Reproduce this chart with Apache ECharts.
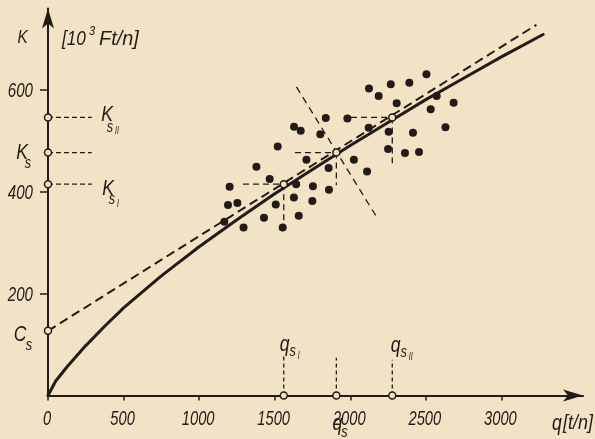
<!DOCTYPE html>
<html><head><meta charset="utf-8">
<script src="https://cdn.jsdelivr.net/npm/echarts@6/dist/echarts.min.js"></script>
<style>html,body{margin:0;padding:0;background:#f2e3c6}#c{width:595px;height:439px}</style>
</head><body><div id="c"></div>
<script>
// ---- data ----
const pointsQ = [2124,2268,2188,2307,1838,1981,1628,1672,1802,2122,2254,1520,2250,1710,2024,1857,2111,1379,1467,1642,1753,1859,1202,1627,1749,1191,1253,1507,1429,1659,1167,1294,1553,2504,2391,2572,2684,2532,2415,2630,2362,2455];
const pointsK = [603,611,588,574,545,544,528,520,513,526,518,489,484,463,463,447,440,449,425,415,411,404,410,389,382,374,378,375,349,353,341,330,330,631,614,588,575,562,516,527,476,478];
const curveQ = [0,50,125,250,375,500,750,1000,1250,1500,1750,2000,2250,2500,2750,3000,3276];
const curveK = [0,28,56,98,136,172,235,292,345,396,444,491,536,581,623,665,709];
const regQ = [0,3232];
const regK = [127,728];
const perpQ = [1644,2184];
const perpK = [606,346];
const groupQ = [1560,1908,2278];        // q_sI, q_s, q_sII
const groupK = [415,477,546];           // K_sI, K_s, K_sII
const interceptK = 127;                 // C_s
const axisDashEndQ = 290;
const groupDashStartQ = [1290,1634,2005];
const groupDashEndK = [327,413,456];
const bottomDashTopK = [80,74,70];
const xTicks = [0,500,1000,1500,2000,2500,3000];
const yTicks = [200,400,600];

// ---- style ----
const ink = '#221b17';
const BG = '#f2e3c6';
const FONT = "'Liberation Sans','Arimo',sans-serif";

const chart = echarts.init(document.getElementById('c'), null, {renderer:'canvas'});

function seg(pts, w, dash, z) {
  return {type:'line', data:pts, symbol:'none', showSymbol:false, silent:true, animation:false,
    lineStyle:{color:ink, width:w, type:dash||'solid'}, z:z||2};
}
const series = [];
series.push({type:'line', data:curveQ.map((q,i)=>[q,curveK[i]]), smooth:false, symbol:'none', animation:false,
  lineStyle:{color:ink, width:3, join:'round', cap:'round'}, z:3});
series.push(seg([[regQ[0],regK[0]],[regQ[1],regK[1]]], 2, [9,5], 3));
series.push(seg([[perpQ[0],perpK[0]],[perpQ[1],perpK[1]]], 1.3, [7,5]));
[groupK[0],groupK[1],groupK[2]].forEach(k=>series.push(seg([[0,k],[axisDashEndQ,k]], 1.3, [5,3])));
groupQ.forEach((q,i)=>{
  series.push(seg([[groupDashStartQ[i],groupK[i]],[q,groupK[i]]], 1.3, [6,4]));
  series.push(seg([[q,groupK[i]],[q,groupDashEndK[i]]], 1.3, [6,4]));
  series.push(seg([[q,0],[q,bottomDashTopK[i]]], 1.3, [4,3]));
});
series.push({type:'scatter', data:pointsQ.map((q,i)=>[q,pointsK[i]]), symbolSize:8, animation:false,
  itemStyle:{color:ink, opacity:1}, z:5});
const hollow = [[0,groupK[0]],[0,groupK[1]],[0,groupK[2]],[0,interceptK]];
groupQ.forEach((q,i)=>{hollow.push([q,0]); hollow.push([q,groupK[i]]);});
series.push({type:'scatter', data:hollow, symbol:'circle', symbolSize:7, animation:false,
  itemStyle:{color:BG, borderColor:ink, borderWidth:1.5, opacity:1}, z:6});

chart.setOption({
  backgroundColor:BG,
  animation:false,
  grid:{left:48, right:12, top:8.5, bottom:43.5},
  xAxis:{type:'value', min:0, max:3540, interval:500,
    axisLine:{show:true, onZero:true, symbol:['none','arrow'], symbolSize:[9,20], lineStyle:{color:ink, width:2}},
    axisTick:{show:true, customValues:xTicks, length:5, lineStyle:{color:ink, width:1.5}},
    axisLabel:{show:false},
    splitLine:{show:false}},
  yAxis:{type:'value', min:0, max:760, interval:200,
    axisLine:{show:true, symbol:['none','arrow'], symbolSize:[9,20], lineStyle:{color:ink, width:2}},
    axisTick:{show:true, customValues:yTicks, length:8, lineStyle:{color:ink, width:1.5}},
    axisLabel:{show:false},
    splitLine:{show:false}},
  series:series
});

// ---- condensed italic lettering, anchored to data coordinates ----
function P(q,k){return chart.convertToPixel({xAxisIndex:0,yAxisIndex:0},[q,k]);}
const g = [];
function txt(x,y,t,fs,align,sx){
  g.push({type:'text', x:x, y:y, z:100, silent:true, scaleX:(sx||0.78),
    style:{text:t, fill:ink, fontFamily:FONT, fontStyle:'italic', fontSize:fs, align:align||'center', verticalAlign:'middle'}});
}
// tick labels
xTicks.forEach(v=>{const p=P(v,0); txt(p[0]-1, p[1]+24, String(v), 21, 'center', 0.7);});
yTicks.forEach(v=>{const p=P(0,v); txt(p[0]-15, p[1]+1, String(v), 21, 'right', 0.72);});

function lab(anchor, parts){
  const p = P(anchor[0],anchor[1]);
  parts.forEach(a=>txt(p[0]+a[0], p[1]+a[1], a[2], a[3], 'center', a[4]||0.8));
}
lab([0,groupK[2]], [[59,-2.5,'K',22],[62,10,'s',16],[69,14,'II',10,0.7]]);
lab([0,groupK[1]], [[-26,0.5,'K',22],[-20,11,'s',16]]);
lab([0,groupK[0]], [[60,4.5,'K',22],[64,15,'s',16],[70,20,'I',10,0.7]]);
lab([0,interceptK], [[-28,4,'C',22],[-19,15,'s',16]]);
lab([groupQ[0],0], [[1,-51,'q',22],[9,-44,'s',16],[15,-39,'I',10,0.7]]);
lab([groupQ[2],0], [[3.4,-50,'q',22],[11.4,-43,'s',16],[18.4,-38.5,'II',10,0.7]]);
lab([groupQ[1],0], [[1,28,'q',22],[8,37,'s',16]]);
// axis names
txt(22.5,37.5,'K',18,'center',0.85);
txt(62,39,'[10',21,'left',0.82);
txt(89,31.5,'3',13,'left',0.85);
txt(99,39,'Ft/n]',21,'left',0.95);
txt(557,424,'q',22,'center',0.8);
txt(563,423,'[t/n]',20,'left',0.9);
chart.setOption({graphic:g});
</script></body></html>
